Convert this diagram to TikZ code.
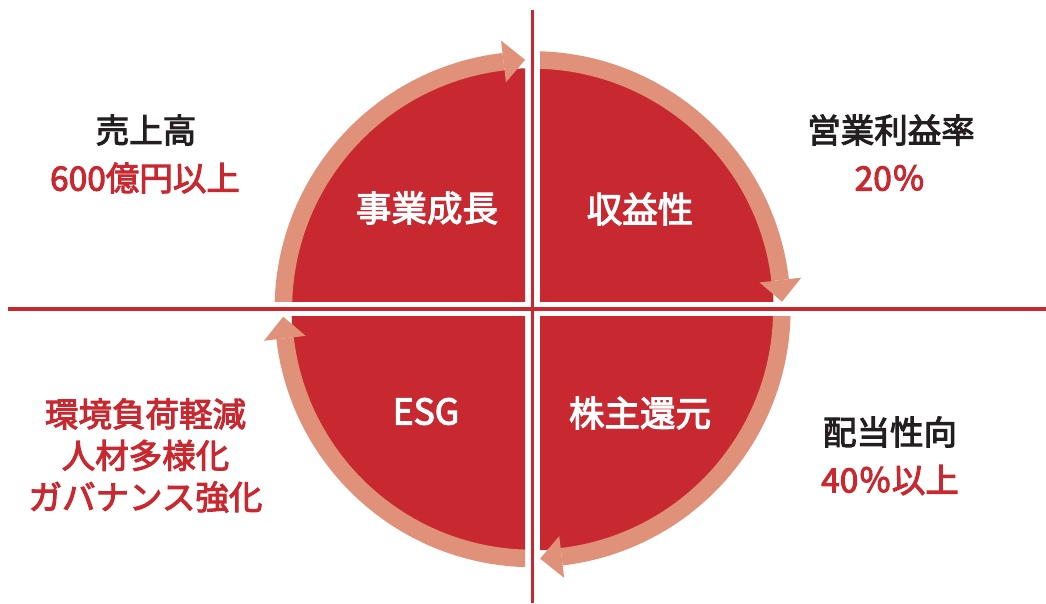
\documentclass[tikz,border=0pt]{standalone}
\usepackage{fontspec}
\setmainfont{Noto Sans CJK JP}[RawFeature={embolden=3}]
\definecolor{qred}{HTML}{C8282F}
\definecolor{ringc}{HTML}{E0917A}
\definecolor{darktext}{HTML}{231F20}
\begin{document}
\begin{tikzpicture}[x=1pt,y=1pt,
  outer/.style={font=\fontsize{33.5}{41.5}\selectfont, text=darktext, inner sep=0pt, align=center},
  outerred/.style={outer, text=qred},
  inner/.style={font=\fontsize{35.5}{40}\selectfont, text=white, inner sep=0pt},
  divider/.style={draw=qred, line width=3.5pt}]
\useasboundingbox (0,0) rectangle (1046,603);
\coordinate (C) at (532.6,293.8);
\foreach \r in {0,-90,-180,-270}{
 \begin{scope}[shift={(C)}, rotate=\r]
  \clip (-7.5,7.5) rectangle (-300,300);
  \fill[qred] (0,0) circle (241);
  \fill[ringc] (180:240.5) arc (180:96.7:240.5) -- (96.7:258) arc (96.7:180:258) -- cycle;
  \fill[ringc] (96.7:228.5) -- (91.72:249.5) -- (96.7:270.5) -- cycle;
 \end{scope}
}
\coordinate (hl) at (8.3,293.8);
\coordinate (hr) at (1046,293.8);
\coordinate (vt) at (532.6,593);
\coordinate (vb) at (532.6,0);
\draw[divider] (hl) -- (hr);
\draw[divider] (vt) -- (vb);
% quadrant labels
\node[inner] (q1) at (427,395) {事業成長};
\node[inner] (q2) at (640,394) {収益性};
\node[inner] (q3) at (426,191.5) {ESG};
\node[inner] (q4) at (640,190) {株主還元};
% outer texts
\node[outer] (t1) at (146,473) {売上高};
\node[outerred] (v1) at (145,425) {600億円以上};
\node[outer] (t2) at (891,473) {営業利益率};
\node[outerred] (v2) at (890,425) {20％};
\node[outerred] (v3) at (145.5,147.5) {環境負荷軽減\\人材多様化\\ガバナンス強化};
\node[outer] (t4) at (890,171) {配当性向};
\node[outerred] (v4) at (890,123) {40％以上};
\end{tikzpicture}
\end{document}
